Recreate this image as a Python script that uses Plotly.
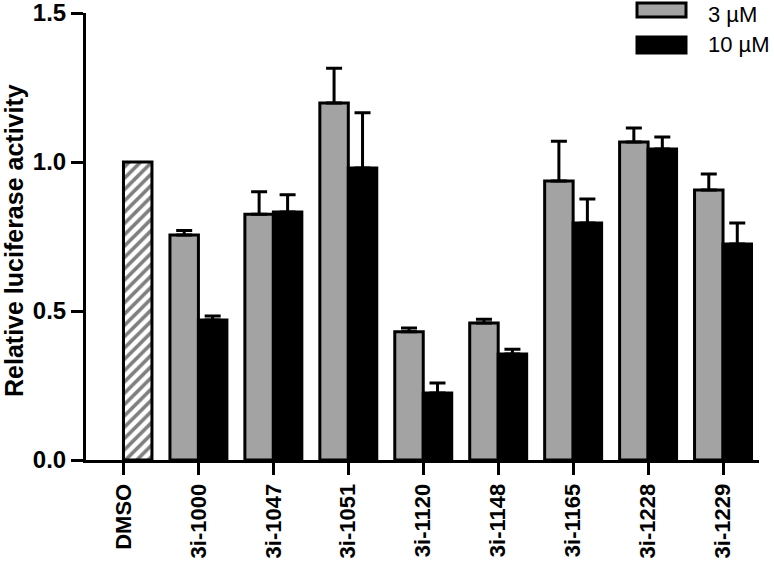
import plotly.graph_objects as go

# ---- data ----
compounds = ["3i-1000", "3i-1047", "3i-1051", "3i-1120", "3i-1148",
             "3i-1165", "3i-1228", "3i-1229"]
categories = ["DMSO"] + compounds
dmso_value = [1.0]
vals_3uM = [0.755, 0.825, 1.198, 0.430, 0.460, 0.936, 1.067, 0.906]
err_3uM = [0.015, 0.075, 0.117, 0.013, 0.012, 0.134, 0.047, 0.054]
vals_10uM = [0.470, 0.832, 0.980, 0.225, 0.356, 0.795, 1.044, 0.725]
err_10uM = [0.013, 0.058, 0.185, 0.033, 0.016, 0.081, 0.040, 0.070]
legend_labels = ["3 µM", "10 µM"]
y_ticks = [0.0, 0.5, 1.0, 1.5]
y_ticktext = ["0.0", "0.5", "1.0", "1.5"]

GRAY = "#a3a3a3"
FONT = "Liberation Sans"
BW = 0.38

L, T, PW, PH = 86, 13, 673, 447
R, B = 15, 102
W, H = L + PW + R, T + PH + B


def px_x(p):  # window pixel -> paper x
    return (p - L) / PW


def px_y(p):  # window pixel -> paper y
    return (T + PH - p) / PH


fig = go.Figure()

fig.add_trace(go.Bar(
    x=["DMSO"], y=dmso_value, width=BW, offset=0,
    marker=dict(color="white", line=dict(color="black", width=3),
                pattern=dict(shape="/", fgcolor="black", bgcolor="white",
                             size=8, solidity=0.45)),
    showlegend=False))

fig.add_trace(go.Bar(
    x=compounds, y=vals_3uM, width=BW, offset=-BW, name=legend_labels[0],
    marker=dict(color=GRAY, line=dict(color="black", width=3)),
    error_y=dict(type="data", array=err_3uM, arrayminus=[0]*len(err_3uM),
                 symmetric=False, color="black", thickness=3, width=8),
    showlegend=False))

fig.add_trace(go.Bar(
    x=compounds, y=vals_10uM, width=BW, offset=0, name=legend_labels[1],
    marker=dict(color="black", line=dict(color="black", width=3)),
    error_y=dict(type="data", array=err_10uM, arrayminus=[0]*len(err_10uM),
                 symmetric=False, color="black", thickness=3, width=8),
    showlegend=False))

fig.update_layout(
    width=W, height=H,
    margin=dict(l=L, r=R, t=T, b=B, pad=0),
    paper_bgcolor="white", plot_bgcolor="white",
    barmode="overlay",
    font=dict(family=FONT, color="black"),
    xaxis=dict(
        type="category", categoryorder="array", categoryarray=categories,
        range=[-0.5, 8.48], showline=True, linecolor="black", linewidth=3,
        ticks="outside", ticklen=12, tickwidth=3, tickcolor="black",
        tickangle=-90, tickfont=dict(family=FONT, size=22, weight="bold"),
        ticklabeloverflow="allow",
        showgrid=False, zeroline=False, automargin=False),
    yaxis=dict(
        range=[0, 1.5], tickvals=y_ticks, ticktext=y_ticktext,
        showline=True, linecolor="black", linewidth=3,
        ticks="outside", ticklen=12, tickwidth=3, tickcolor="black",
        tickfont=dict(family=FONT, size=24, weight="bold"),
        ticklabeloverflow="allow",
        showgrid=False, zeroline=False, automargin=False),
)

# y-axis title
fig.add_annotation(
    text="Relative luciferase activity", xref="paper", yref="paper",
    x=px_x(-1), y=px_y(241), textangle=-90, borderpad=0,
    showarrow=False, font=dict(family=FONT, size=25, weight="bold"))

# legend drawn as swatches + text
sw = [(3, 17, GRAY), (37, 53, "black")]
text_y = [15, 45]
for (yt, yb, col), lab, ty in zip(sw, legend_labels, text_y):
    fig.add_shape(type="rect", xref="paper", yref="paper",
                  x0=px_x(637), x1=px_x(686),
                  y0=px_y(yb), y1=px_y(yt),
                  fillcolor=col, line=dict(color="black", width=3))
    fig.add_annotation(text=lab, xref="paper", yref="paper",
                       x=px_x(707), y=px_y(ty), borderpad=0,
                       xanchor="left", yanchor="middle", showarrow=False,
                       font=dict(family=FONT, size=22))

fig.write_html(
    "out.html",
    config={"displayModeBar": False},
    post_script="document.body.style.margin='0';document.body.style.padding='0';")
